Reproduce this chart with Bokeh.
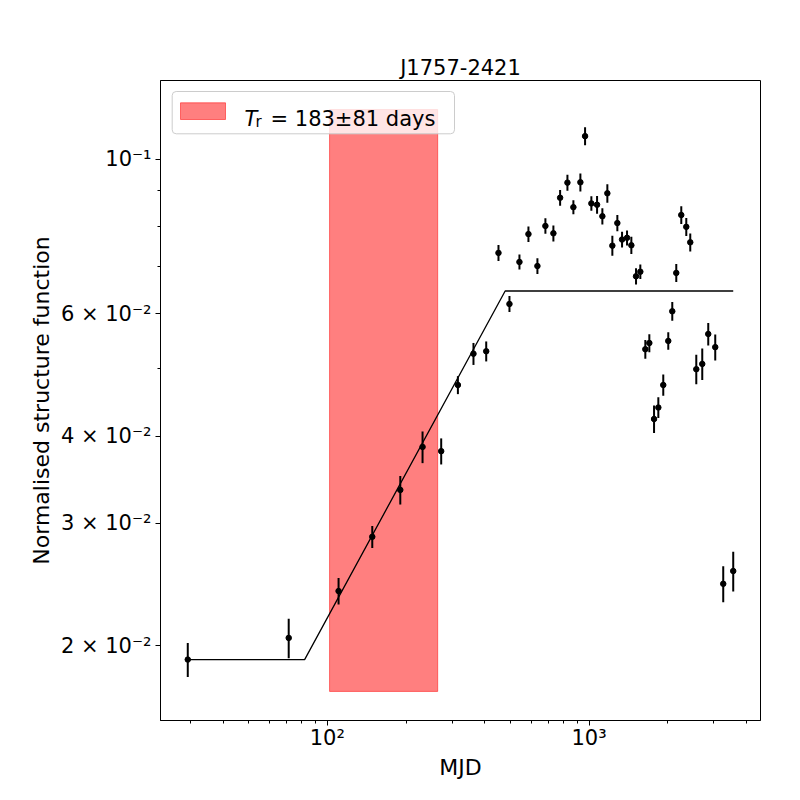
import numpy as np
from bokeh.plotting import figure
from bokeh.models import (ColumnDataSource, Range1d, FixedTicker, BoxAnnotation, Label)
from bokeh.embed import file_html
from bokeh.resources import INLINE

# ---------------- data ----------------
title_text = "J1757-2421"
x_label = "MJD"
y_label = "Normalised structure function"

lag = [29.3, 71.2, 110.4, 148.5, 190.0, 231.1, 272.3, 315.4, 361.7, 404.6,
       450.7, 496.4, 542.0, 586.6, 634.8, 681.0, 730.6, 775.1, 826.6, 871.1,
       926.4, 965.4, 1020.4, 1072.8, 1124.0, 1174.4, 1227.2, 1282.4, 1336.6, 1396.4,
       1450.4, 1511.4, 1569.6, 1640.2, 1699.0, 1771.0, 1839.0, 1920.6, 2007.1, 2079.0,
       2153.5, 2250.4, 2351.6, 2435.4, 2567.9, 2706.4, 2853.0, 3034.0, 3255.0, 3554.0]

sf = [0.01911, 0.02053, 0.02397, 0.02868, 0.03349, 0.03861, 0.03807, 0.04738, 0.05254, 0.05297,
      0.07334, 0.06194, 0.07117, 0.07804, 0.07022, 0.08017, 0.07825, 0.08801, 0.09252, 0.08531,
      0.09263, 0.1079, 0.08637, 0.0860, 0.08279, 0.08932, 0.07511, 0.08094, 0.07665, 0.07709,
      0.07521, 0.06788, 0.06891, 0.05333, 0.05444, 0.04234, 0.04398, 0.04738, 0.05481, 0.06046,
      0.06864, 0.08313, 0.07994, 0.07595, 0.04992, 0.0508, 0.05609, 0.0537, 0.02455, 0.02561]

sf_err = [0.00107, 0.00134, 0.00105, 0.00104, 0.00158, 0.00202, 0.00164, 0.00141, 0.00191, 0.00175,
          0.00194, 0.00164, 0.00176, 0.00201, 0.00181, 0.00207, 0.00207, 0.00227, 0.00245, 0.00197,
          0.00276, 0.00321, 0.00208, 0.0025, 0.00224, 0.00272, 0.00248, 0.00219, 0.00198, 0.00191,
          0.00214, 0.00184, 0.00166, 0.00166, 0.00162, 0.00192, 0.00151, 0.00166, 0.00159, 0.00188,
          0.00204, 0.00247, 0.00238, 0.00226, 0.00243, 0.00264, 0.00208, 0.00231, 0.00146, 0.00168]

model_x = [29.3, 81.9, 478.0, 3554.0]
model_y = [0.01911, 0.01911, 0.06466, 0.06466]

T_r = 183
T_r_err = 81
band_low = 0.0172
band_high = 0.1178

x_tick_values = [100, 1000]
x_tick_labels = ["10\u00b2", "10\u00b3"]
x_minor_ticks = [30, 40, 50, 60, 70, 80, 90, 200, 300, 400, 500, 600, 700, 800, 900,
                 2000, 3000, 4000]
y_tick_values = [0.02, 0.03, 0.04, 0.06, 0.1]
y_tick_labels = ["2 \u00d7 10\u207b\u00b2", "3 \u00d7 10\u207b\u00b2", "4 \u00d7 10\u207b\u00b2",
                 "6 \u00d7 10\u207b\u00b2", "10\u207b\u00b9"]
y_minor_ticks = [0.05, 0.07, 0.08, 0.09]

# ---------------- derived ----------------
lag_a = np.array(lag)
sf_a = np.array(sf)
err_a = np.array(sf_err)
lo = sf_a - err_a
hi = sf_a + err_a

# matplotlib-like 5% margins in log space
lxmin, lxmax = np.log10(min(lag_a.min(), T_r - T_r_err)), np.log10(max(lag_a.max(), T_r + T_r_err))
dx = lxmax - lxmin
lx0, lx1 = lxmin - 0.05 * dx, lxmax + 0.05 * dx
lymin, lymax = np.log10(min(lo.min(), band_low)), np.log10(max(hi.max(), band_high))
dy = lymax - lymin
ly0, ly1 = lymin - 0.05 * dy, lymax + 0.05 * dy

FW, FH = 600, 640
FONT = "DejaVu Sans"

p = figure(width=792, height=792, x_axis_type="log", y_axis_type="log",
           x_range=Range1d(10 ** lx0, 10 ** lx1), y_range=Range1d(10 ** ly0, 10 ** ly1),
           output_backend="svg", toolbar_location=None,
           min_border_left=160, min_border_right=32, min_border_top=80, min_border_bottom=72)

p.title.text = title_text
p.title.text_font = FONT
p.title.text_font_size = "21px"
p.title.text_font_style = "normal"
p.title.text_color = "black"
p.title.align = "center"
p.title.standoff = 2

p.xgrid.visible = False
p.ygrid.visible = False
p.outline_line_color = "black"
p.outline_line_alpha = 1.0
p.outline_line_width = 1

for ax in (p.xaxis[0], p.yaxis[0]):
    ax.axis_line_color = "black"
    ax.major_tick_in = 0
    ax.minor_tick_in = 0
    ax.major_tick_out = 5
    ax.minor_tick_out = 3
    ax.major_tick_line_color = "black"
    ax.minor_tick_line_color = "black"
    ax.major_label_text_font = FONT
    ax.major_label_text_font_size = "21px"
    ax.major_label_text_color = "black"
    ax.axis_label_text_font = FONT
    ax.axis_label_text_font_size = "22px"
    ax.axis_label_text_font_style = "normal"
    ax.axis_label_text_color = "black"

p.xaxis.ticker = FixedTicker(ticks=x_tick_values, minor_ticks=x_minor_ticks)
p.xaxis.major_label_overrides = dict(zip(x_tick_values, x_tick_labels))
p.yaxis.ticker = FixedTicker(ticks=y_tick_values, minor_ticks=y_minor_ticks)
p.yaxis.major_label_overrides = dict(zip(y_tick_values, y_tick_labels))
p.xaxis.axis_label = x_label
p.yaxis.axis_label = y_label
p.xaxis.major_label_standoff = 0
p.yaxis.major_label_standoff = 4
p.xaxis.axis_label_standoff = 2
p.yaxis.axis_label_standoff = 4

# red band
p.quad(left=[T_r - T_r_err], right=[T_r + T_r_err], bottom=[band_low], top=[band_high],
       fill_color="red", fill_alpha=0.5, line_color="red", line_alpha=0.5, line_width=1)

# model line
p.line(model_x, model_y, line_color="black", line_width=1.3)

# data with error bars
src = ColumnDataSource(dict(x=lag_a, y=sf_a, lo=lo, hi=hi))
p.segment(x0="x", y0="lo", x1="x", y1="hi", source=src, line_color="black", line_width=2)
p.scatter(x="x", y="y", source=src, size=5.5, fill_color="black", line_color="black")

# custom legend (positions in frame pixels -> data coords)
def fx(px):
    return 10 ** (lx0 + (px / FW) * (lx1 - lx0))

def fy(py):
    return 10 ** (ly1 - (py / FH) * (ly1 - ly0))

p.add_layout(BoxAnnotation(left=fx(11.7), right=fx(294), top=fy(11), bottom=fy(53.3),
                           fill_color="white", fill_alpha=0.8, line_color="#cccccc",
                           line_alpha=1.0, line_width=1, border_radius=4))
p.add_layout(BoxAnnotation(left=fx(20), right=fx(65), top=fy(22.3), bottom=fy(39),
                           fill_color="red", fill_alpha=0.5, line_color="red",
                           line_alpha=0.5, line_width=1))
p.add_layout(Label(x=fx(84), y=fy(38.3), text="T", text_font=FONT, text_font_size="21px",
                   text_font_style="italic", text_baseline="alphabetic", text_color="black"))
p.add_layout(Label(x=fx(95), y=fy(41.5), text="r", text_font=FONT, text_font_size="15px",
                   text_baseline="alphabetic", text_color="black"))
p.add_layout(Label(x=fx(110), y=fy(38.3), text="= %d\u00b1%d days" % (T_r, T_r_err),
                   text_font=FONT, text_font_size="21px",
                   text_baseline="alphabetic", text_color="black"))

open("out.html", "w").write(file_html(p, INLINE))
